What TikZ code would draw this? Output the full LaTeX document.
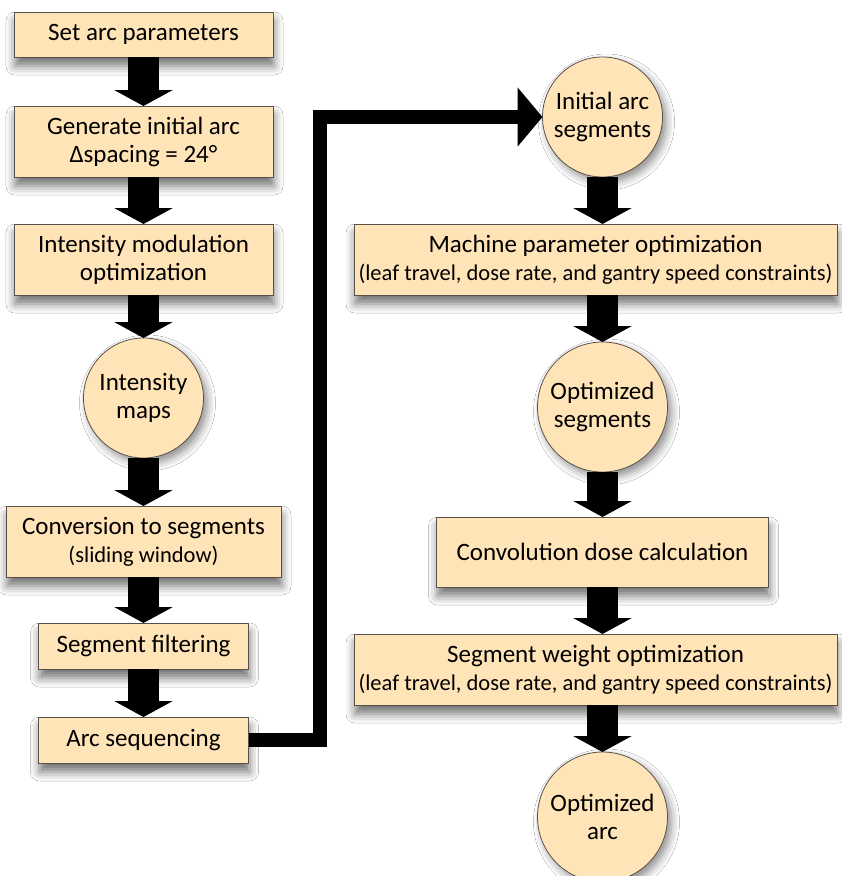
\documentclass[tikz,border=0pt]{standalone}
\usepackage{fontspec}
\setmainfont{Carlito}
\usetikzlibrary{arrows.meta,shadows.blur,calc}
\definecolor{boxfill}{HTML}{FFE4B8}
\definecolor{boxline}{HTML}{5A5048}
\newcommand\smalltxt{\fontsize{22.5}{26}\selectfont}
\begin{document}
\begin{tikzpicture}[x=1pt,y=-1pt,
  every node/.style={inner sep=0pt,outer sep=0pt,align=center,font=\fontsize{25}{28}\selectfont},
  procbox/.style={rectangle,draw=boxline,line width=0.8pt,fill=boxfill,
    blur shadow={shadow xshift=1pt,shadow yshift=-9pt,shadow blur radius=9pt,shadow opacity=55}},
  datacirc/.style={circle,draw=boxline,line width=0.8pt,fill=boxfill,
    blur shadow={shadow xshift=4pt,shadow yshift=-5pt,shadow blur radius=8pt,shadow opacity=45}},
  bigarrow/.style={line width=31pt,-{Triangle[width=58pt,length=16pt]}},
  elbow/.style={line width=14pt,line join=miter,-{Triangle[width=58pt,length=25pt]}}
]
\fill[white] (0,0) rectangle (842,876);
\useasboundingbox (0,0) rectangle (842,876);

% left column
\node[procbox,minimum width=259pt,minimum height=45pt] (b1) at (143.5,34.5) {Set arc parameters};
\node[procbox,minimum width=259pt,minimum height=71pt] (b2) at (143.5,141.5) {Generate initial arc\\Δspacing = 24°};
\node[procbox,minimum width=259pt,minimum height=71pt] (b3) at (143.5,259.5) {Intensity modulation\\optimization};
\node[datacirc,minimum size=120pt] (c1) at (143.5,398) {Intensity\\maps};
\node[procbox,minimum width=275pt,minimum height=71pt] (b4) at (143.5,541.5) {Conversion to segments\\\smalltxt (sliding window)};
\node[procbox,minimum width=210pt,minimum height=46pt] (b5) at (143.5,646) {Segment filtering};
\node[procbox,minimum width=210pt,minimum height=46pt] (b6) at (143.5,740) {Arc sequencing};

% right column
\node[datacirc,minimum size=120pt] (c2) at (602.5,117) {Initial arc\\segments};
\node[procbox,minimum width=483pt,minimum height=71pt] (b7) at (595.5,259.5) {Machine parameter optimization\\\smalltxt (leaf travel, dose rate, and gantry speed constraints)};
\node[datacirc,minimum size=130pt] (c3) at (602.5,407) {Optimized\\segments};
\node[procbox,minimum width=332pt,minimum height=70pt] (b8) at (602.5,552) {Convolution dose calculation};
\node[procbox,minimum width=483pt,minimum height=71pt] (b9) at (595.5,669.5) {Segment weight optimization\\\smalltxt (leaf travel, dose rate, and gantry speed constraints)};
\node[datacirc,minimum size=130pt] (c4) at (602.5,817) {Optimized\\arc};

\coordinate (j) at (319.5,420);

% connectors
\draw[bigarrow] (b1.south) -- (b2.north);
\draw[bigarrow] (b2.south) -- (b3.north);
\draw[bigarrow] (b3.south) -- (c1.north);
\draw[bigarrow] (c1.south) -- (b4.north);
\draw[bigarrow] (b4.south) -- (b5.north);
\draw[bigarrow] (b5.south) -- (b6.north);
\draw[elbow] (b6.east) -| (j) |- (c2.west);
\draw[bigarrow] (c2.south) -- (c2.south |- b7.north);
\draw[bigarrow] (b7.south -| c3.north) -- (c3.north);
\draw[bigarrow] (c3.south) -- (b8.north);
\draw[bigarrow] (b8.south) -- (b8.south |- b9.north);
\draw[bigarrow] (b9.south -| c4.north) -- (c4.north);
\end{tikzpicture}
\end{document}
